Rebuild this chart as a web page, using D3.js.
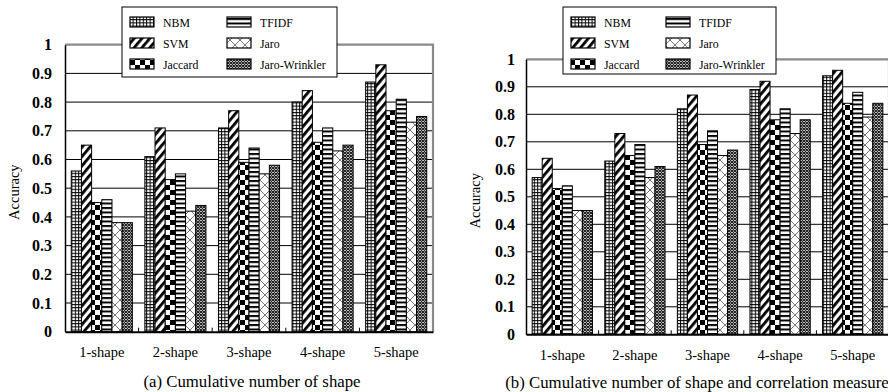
<!DOCTYPE html>
<html>
<head>
<meta charset="utf-8">
<script src="https://cdn.jsdelivr.net/npm/d3@7"></script>
<style>
  body { margin: 0; background: #fff; }
  svg text { font-family: "Liberation Serif", "Times New Roman", Times, serif !important; }
</style>
</head>
<body>
<svg id="chart" width="888" height="392"></svg>
<script>
// categories and series
const categories = ['1-shape', '2-shape', '3-shape', '4-shape', '5-shape']
const series = ['NBM', 'SVM', 'Jaccard', 'TFIDF', 'Jaro', 'Jaro-Wrinkler']
const yTicks = [0, 0.1, 0.2, 0.3, 0.4, 0.5, 0.6, 0.7, 0.8, 0.9, 1]

// (a) cumulative number of shape, one value per category
const shapeNBM     = [0.56, 0.61, 0.71, 0.80, 0.87]
const shapeSVM     = [0.65, 0.71, 0.77, 0.84, 0.93]
const shapeJaccard = [0.45, 0.53, 0.59, 0.66, 0.77]
const shapeTFIDF   = [0.46, 0.55, 0.64, 0.71, 0.81]
const shapeJaro    = [0.38, 0.42, 0.55, 0.63, 0.73]
const shapeJW      = [0.38, 0.44, 0.58, 0.65, 0.75]

// (b) cumulative number of shape and correlation measure
const corrNBM     = [0.57, 0.63, 0.82, 0.89, 0.94]
const corrSVM     = [0.64, 0.73, 0.87, 0.92, 0.96]
const corrJaccard = [0.53, 0.65, 0.69, 0.78, 0.84]
const corrTFIDF   = [0.54, 0.69, 0.74, 0.82, 0.88]
const corrJaro    = [0.45, 0.57, 0.65, 0.73, 0.79]
const corrJW      = [0.45, 0.61, 0.67, 0.78, 0.84]

const svg = d3.select('#chart')
const defs = svg.append('defs')

// fill patterns, one per series
function makePattern(id, w, h, draw, transform) {
    const p = defs.append('pattern')
        .attr('id', id)
        .attr('patternUnits', 'userSpaceOnUse')
        .attr('width', w)
        .attr('height', h)
    if (transform) p.attr('patternTransform', transform)
    p.append('rect').attr('width', w).attr('height', h).attr('fill', '#fff')
    draw(p)
}

makePattern('p0', 3.4, 3.2, p => {
    p.append('rect').attr('x', 0).attr('y', 0).attr('width', 1).attr('height', 3.2).attr('fill', '#000')
    p.append('rect').attr('x', 0).attr('y', 0).attr('width', 3.4).attr('height', 1).attr('fill', '#000')
})
makePattern('p1', 6, 6, p => {
    p.append('rect').attr('x', 0).attr('y', 0).attr('width', 2.8).attr('height', 6).attr('fill', '#000')
}, 'rotate(40)')
makePattern('p2', 10, 10, p => {
    p.append('rect').attr('x', 0).attr('y', 0).attr('width', 5).attr('height', 5).attr('fill', '#000')
    p.append('rect').attr('x', 5).attr('y', 5).attr('width', 5).attr('height', 5).attr('fill', '#000')
})
makePattern('p3', 4.5, 4.5, p => {
    p.append('rect').attr('x', 0).attr('y', 0).attr('width', 4.5).attr('height', 2).attr('fill', '#000')
})
makePattern('p4', 10, 10, p => {
    p.append('path').attr('d', 'M0,0L10,10M10,0L0,10').attr('stroke', '#777').attr('stroke-width', 1)
})
makePattern('p5', 3, 3, p => {
    p.append('path').attr('d', 'M0,0L3,3M3,0L0,3').attr('stroke', '#1a1a1a').attr('stroke-width', 1.1)
})

const fills = series.map((s, i) => `url(#p${i})`)

function drawPanel(cfg, rows) {
    const g = svg.append('g')

    const x = d3.scaleBand()
        .domain(categories)
        .range([cfg.left, cfg.right])
        .paddingInner(0.17)
        .paddingOuter(0.085)
    const xs = d3.scaleBand()
        .domain(series)
        .range([0, x.bandwidth()])
    const y = d3.scaleLinear()
        .domain([0, 1])
        .range([cfg.bottom, cfg.top])

    // grid lines
    g.selectAll('.grid')
        .data(yTicks.filter(t => t > 0 && t < 1))
        .enter()
        .append('line')
        .attr('x1', cfg.left)
        .attr('x2', cfg.right)
        .attr('y1', d => y(d))
        .attr('y2', d => y(d))
        .attr('stroke', '#000')
        .attr('stroke-width', 1)

    // frame: grey top and right
    g.append('path')
        .attr('d', `M${cfg.left},${y(1)}H${cfg.right}V${cfg.bottom}`)
        .attr('fill', 'none')
        .attr('stroke', '#8a8a8a')
        .attr('stroke-width', 2.2)

    // bars
    const data = []
    categories.forEach((c, i) => {
        series.forEach((s, j) => data.push({ c, s, j, v: rows[j][i] }))
    })
    g.selectAll('.bar')
        .data(data)
        .enter()
        .append('rect')
        .attr('x', d => x(d.c) + xs(d.s))
        .attr('y', d => y(d.v))
        .attr('width', xs.bandwidth())
        .attr('height', d => y(0) - y(d.v))
        .attr('fill', d => fills[d.j])
        .attr('stroke', '#000')
        .attr('stroke-width', 1)

    // y axis
    const yAxis = d3.axisLeft(y)
        .tickValues(yTicks)
        .tickSize(0)
        .tickPadding(cfg.tickPad)
        .tickFormat(d => d === 0 ? '0' : d === 1 ? '1' : d3.format('.1f')(d))
    const ya = g.append('g')
        .attr('transform', `translate(${cfg.left},0)`)
        .call(yAxis)
    ya.select('.domain').attr('stroke', '#000').attr('stroke-width', 1.5)
    ya.selectAll('text')
        .attr('font-size', 16)
        .attr('font-weight', 'bold')
        .attr('fill', '#000')

    // x axis
    const xAxis = d3.axisBottom(x).tickSize(0).tickPadding(15)
    const xa = g.append('g')
        .attr('transform', `translate(0,${cfg.bottom})`)
        .call(xAxis)
    xa.select('.domain').attr('stroke', '#000').attr('stroke-width', 2)
    xa.selectAll('text')
        .attr('font-size', 14.5)
        .attr('fill', '#000')

    // small ticks between categories
    const bounds = categories.slice(1).map(c => x(c) - x.step() * x.paddingInner() / 2)
    g.selectAll('.btick')
        .data(bounds)
        .enter()
        .append('line')
        .attr('x1', d => d)
        .attr('x2', d => d)
        .attr('y1', cfg.bottom)
        .attr('y2', cfg.bottom - 4)
        .attr('stroke', '#000')
        .attr('stroke-width', 1)

    // axis title
    g.append('text')
        .attr('transform', `translate(${cfg.titleX},${(cfg.top + cfg.bottom) / 2 + 4}) rotate(-90)`)
        .attr('text-anchor', 'middle')
        .attr('font-size', 14.5)
        .text('Accuracy')

    // caption
    g.append('text')
        .attr('x', cfg.captionX)
        .attr('y', cfg.captionY)
        .attr('text-anchor', 'middle')
        .attr('font-size', 16.8)
        .text(cfg.caption)

    // legend
    const lg = g.append('g')
    lg.append('rect')
        .attr('x', cfg.legX)
        .attr('y', cfg.legY)
        .attr('width', cfg.legW)
        .attr('height', cfg.legH)
        .attr('fill', '#fff')
        .attr('stroke', '#000')
        .attr('stroke-width', 1)
    series.forEach((s, i) => {
        const col = Math.floor(i / 3)
        const row = i % 3
        const sx = cfg.legX + 8 + col * cfg.legColW
        const sy = cfg.legY + 10 + row * 21
        lg.append('rect')
            .attr('x', sx)
            .attr('y', sy)
            .attr('width', 24)
            .attr('height', 10)
            .attr('fill', fills[i])
            .attr('stroke', '#000')
            .attr('stroke-width', 1.2)
        lg.append('text')
            .attr('x', sx + 33)
            .attr('y', sy + 10)
            .attr('font-size', 11.8)
            .text(s)
    })
}

drawPanel({
    left: 65, right: 433, top: 44.7, bottom: 331.7,
    tickPad: 13, titleX: 19,
    caption: '(a) Cumulative number of shape', captionX: 252, captionY: 387,
    legX: 122, legY: 7, legW: 215, legH: 70, legColW: 97
}, [shapeNBM, shapeSVM, shapeJaccard, shapeTFIDF, shapeJaro, shapeJW])

drawPanel({
    left: 526, right: 889, top: 59.3, bottom: 334.3,
    tickPad: 11, titleX: 480,
    caption: '(b) Cumulative number of shape and correlation measure', captionX: 697, captionY: 388,
    legX: 563, legY: 7, legW: 213, legH: 67, legColW: 95
}, [corrNBM, corrSVM, corrJaccard, corrTFIDF, corrJaro, corrJW])
</script>
</body>
</html>
